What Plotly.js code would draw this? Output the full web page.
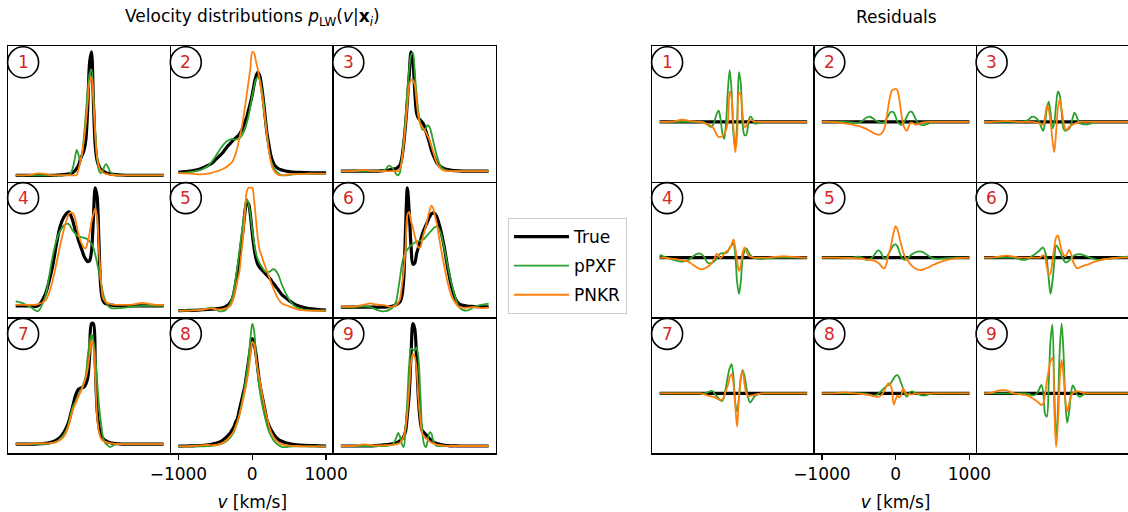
<!DOCTYPE html>
<html><head><meta charset="utf-8">
<script src="https://cdn.plot.ly/plotly-3.0.1.min.js"></script>
<style>html,body{margin:0;padding:0;background:#fff}#chart{width:1128px;height:512px}</style>
</head><body><div id="chart"></div>
<script>
// velocity grid (km/s)
const V = [-1000,-900,-800,-700,-600,-550,-500,-450,-400,-350,
  -300,-275,-250,-225,-200,-175,-150,-125,-100,-75,-50,-25,0,25,50,75,100,125,150,175,200,225,250,275,300,
  350,400,450,500,550,600,700,800,900,1000];

// ---- Velocity distributions (left) ----
const TRUE_1 = [0,0,0,0,0,0,0,0.3,0.5,0.8, 1.2,1.5,2,3,4.5,7,10,16,20,25,36,68,111,121,74,30,15,9,6,5,3.5,2.5,2,1.5,1.2, 0.8,0.5,0.3,0,0,0,0,0,0,0];
const PPXF_1 = [0,0,0,0,0,0,0,0,0,0.2, 0.5,1,3,8,17,25,20,14,22,40,62,85,100,104,80,45,18,5,2,4,9,11,8,4,2, 0.5,0,0,0,0,0,0,0,0,0];
const PNKR_1 = [0,0,0.5,2,1.5,0.5,0,0,0,0, 0,0,0,0,0,0.5,6,14,23,36,52,73,92,96,74,40,18,9,5,3,2,1.5,1,0.5,0.5, 0,0,0,0,0,0,0,0,0,0];

const TRUE_2 = [0.8,1.5,2.5,4.3,7.5,9.5,13,16.5,20,25, 29,31,33,34.5,36,38,41,45,50,55,62,69,77,87,95,99,96,86,72,55,39,28,18,12,8, 4.5,3,2,1.5,1,0.8,0.5,0.3,0.2,0.2];
const PPXF_2 = [0,0.5,1.5,3,7,11,16,22,27,31, 33,33.5,33,33,33.5,34,36,39,43,49,56,66,76,85,92,94,92,84,72,55,38,23,13,8,4, 0,-2,-2.3,-1.8,-1.3,-1,-0.7,-0.6,-0.8,-1];
const PNKR_2 = [0,-0.3,-0.8,-1.3,-0.5,0.3,1.3,2.5,4,6, 9,10.5,14,19,25,34,42,52,64,77,90,103,119,118,110,102,92,79,66,51,36,22,12,5,1.5, -1.5,-2.3,-1.8,-1.3,-1,-0.8,-0.7,-0.5,-0.5,-0.5];

const TRUE_3 = [0,0,0,0,0,0,0,0.3,0.6,1, 1.8,2.2,2.8,4,6,13,27,46,70,96,119,110,80,58,53,51,49,46,40,34,28,21,16,12,8, 4.5,2.5,1.5,0.8,0.5,0.3,0,0,0,0];
const PPXF_3 = [0,0,0,0,0,0,0,0.3,1.5,5.5, 3,0,-3,-4.3,-1,13,30,53,80,102,116,118,98,77,59,48,42,41,43,46,44,38,30,22,15, 5,1.5,0.5,0,0,0,0,0,0,0];
const PNKR_3 = [0,0,0.3,1.3,0.5,0,0,0,0,0, 0,0,0,0.5,2.5,10,26,45,66,86,91,91,86,70,54,47,44,42,39,35,31,25,19,13,8, 2.5,0.5,0,0,0,0,0,0,0,0];

const TRUE_4 = [0,0,0,0,11,23,38,58,75,84, 88.5,89,85,80,73,68,62,57,52,47,44,42,43,52,82,112,104,62,18,6,3,2,1.5,1,0.7, 0.4,0.2,0,0,0,0,0,0,0,0];
const PPXF_4 = [4.3,2.5,-1,-5,9,27,47,62,71,76, 78,77,74,71,69,67,66,65.5,65,64.5,64,63,61,59,55,49,41,32,23,14,7,3,0,-1.5,-2.3, -2.3,-2,-1.7,-1.3,-1,-0.6,0,0,0,0];
const PNKR_4 = [1,1,1,1.5,5,12,24,40,57,72, 84,88,88.5,88,84,76,68,62,58,55,55,61,69,80,87,92,85,55,28,9,5,3.5,2.5,2,1.5, 1,1,1,1,1,1.5,3,2,1,1];

const TRUE_5 = [0,0.2,0.4,0.7,1.2,1.5,1.8,2.3,3,4.5, 8,11,17,27,39,51,66,80,97,108,106,95,77,62,52,46,43,41,39,37,35,33,31,28,26, 21,16,13,10,7.5,5.5,3.2,1.8,1.1,0.7];
const PPXF_5 = [0,0.2,0.5,0.8,2.5,3,1.5,-0.5,-0.5,1.5, 7,12,20,31,44,58,73,87,102,111,106,96,80,67,57,51,47,44,41,39,38.5,38.5,39.5,41,41, 36,26,18,11,6,3.5,1,0.3,0,0];
const PNKR_5 = [0,0,0.3,0.8,2,2.3,1.7,1.3,1.5,2.5, 4.5,8,13,21,30,38,55,73,95,118,122,122,122,110,91,72,60,55,49,44,39,34,29,24,19.6, 12,7.3,5.7,4.4,3,1.5,0.3,0,0,0];

const TRUE_6 = [0,0,0,0,0,0,0,0,0,0.3, 1,1.5,2.3,3.5,5,10,26,73,114,91,58,41,42,51,57,63,69,74,78,82,86,89,90,89,86, 74,57,36,19,8,3,1,0.5,0.3,0.3];
const PPXF_6 = [0,0,0.3,0.7,0,-1.5,-3,-4,-4,-3, -0.5,2,6,16,28,40,48,52,55,57,59,60.5,61.5,62.5,63,63.5,64,65,67,69,71,73,75,76.5,77, 71,56,38,22,9,0,-3.5,0,2,3.3];
const PNKR_6 = [0.5,0.5,0.5,2,3.5,2.7,2.2,2,1.5,0.5, 0.3,1,2,4,7.7,20,34,56,88,91,82,76,68,62,57,57,64,71,77,85,92,97,94,87,79, 58,39,22,10,4,0,-0.7,0,-1,-0.7];

const TRUE_7 = [0,0,0,0.2,0.7,1.2,2.2,3.8,6.5,11, 18,23,30,37,44,49,52,53,53.5,54,57,63,84,114,114,79,33,17,9,6,4,3,2,1.5,1, 0.5,0.3,0,0,0,0,0,0,0,0];
const PPXF_7 = [0,0,0,0,0.3,0.6,1.2,2.5,5,9, 16,22,30,36,39,43,47,50,54,59,66,84,96,104,98,84,61,38,22,9,2.5,0,-1.5,-2.7,-2, 0,0,0,0,0,0,0,0,0,0];
const PNKR_7 = [0,0,0.5,1,0.8,0.8,1.2,2,4,7, 14,20,27,33,37,41,45,49,53,58,63,72,85,98,92,64,26,12,6,3.5,2.5,2,1.5,1,0.7, 0.3,0,0,0,0,0,0,0,0,0];

const TRUE_8 = [0.2,0.3,0.5,0.8,1.5,2,3,4,6,9, 13,16,19,24,28,36,44,52,60,72,85,97,107,102,92,77,63,53,44,35,26,21,17,14,11, 7,5,3.5,2.7,2,1.5,1,0.7,0.5,0.3];
const PPXF_8 = [0,0,0,0,0.3,0.5,1,1.8,3,5, 8.5,11,14,19,24,31,40,50,60,73,88,107,122,115,92,72,56,45,36,28,21,15,11,7.5,5, 1.5,-0.5,-0.7,-0.3,0,0,0,0,0,0];
const PNKR_8 = [0,0,0.3,1,1.3,1,1.3,2,3.5,6, 10,12,15,20,25,31,38,46,55,64,75,90,104,101,88,76,66,55,45,36,28,21,15,11,8, 4,2,1.3,0.8,0.5,0.3,0,0,0,0];

const TRUE_9 = [0,0,0,0,0,0.3,0.5,0.8,1.2,1.6, 2.1,2.5,3,4,5,6.5,9,14,30,50,88,118,113,84,45,24,15,13,11,9,7,5.5,4,3,2.3, 1.3,0.7,0.4,0.2,0.2,0,0,0,0,0];
const PPXF_9 = [0,0,0,0,0,0,0,0,0,0.5, 1.5,4,8,12.5,9,2,-1,17,45,79,94,93,92,95,85,52,16,2,-1,5,13,12,5,1.5,0, 0,0,0,0,0,0,0,0,0,0];
const PNKR_9 = [0,0,0.3,1.5,1,0.5,0.5,0.5,0.7,0.8, 1,1.3,1.7,2.3,3,5,9,17,32,55,80,89,86,74,45,26,12,9,7.5,6,4.5,3.3,2.5,1.8,1.3, 0.7,0.3,0,0,0,0,0,0,0,0];

// ---- Residuals (right) ----
const RES_TRUE = [0,0,0,0,0,0,0,0,0,0, 0,0,0,0,0,0,0,0,0,0,0,0,0,0,0,0,0,0,0,0,0,0,0,0,0, 0,0,0,0,0,0,0,0,0,0];
const RES_PPXF_1 = [0,0,0,0,0,0,0,0,-0.5,-3, -5,-3,2,8,11,3,-11,-17,-1,31,51,31,-12,-26,-1,49,38,-2,-13,-13,-3,5,4,0,-2, -1,0,0,0,0,0,0,0,0,0];
const RES_PNKR_1 = [0,0,0.5,2,1,0.5,0,0,-1,-2.5, -4,-6,-9,-13,-15,-15,-14,-12,-8,0,30,24,-5,-30,-14,29,26,8,-5,-4,0,2,1.5,0.5,0, 0,0,0,0,0,0,0,0,0,0];
const RES_PPXF_2 = [0,0,0,0,-0.5,-1,-1,1,4,5, 3,1.5,0.5,-0.5,-1,-1,0,3,6,9,10,9,5,0,-2,-3,-2,1,5,8.5,10,9.5,6,2,-1, -3,-3,-1.5,-0.5,0,0,0,0,0,0];
const RES_PNKR_2 = [0,0,-0.5,-1.5,-2.5,-3.5,-4,-5.5,-7,-9, -11,-12,-12.5,-12.7,-12,-10,-6,3,15,25,31,32,32.5,31,22,9,-2,-7,-9,-5,-1,-1,-2,-3,-2.5, -1,-0.3,0,0,0,0,0,0,0,0];
const RES_PPXF_3 = [0,0,0,0,0,0,0,0.5,2,5, 4,2,0,-5.6,-9,-1,13,20,9,-6.5,-1,17,30,26,9,-6.6,-9,-8,-7,-3,4,9,6,1,-1.5, -2.5,-2.5,-1.5,-0.5,0,0,0,0,0,0];
const RES_PNKR_3 = [0,0,0.5,1,0.5,0,0,0,0,0, -0.5,-1,-2,-2.5,-3,5,16,12,0,-18,-30,-10,14,22,12,0,-7,-7.5,-5,-4,-3,-2,-1,-0.5,0, 0,0,0,0,0,0,0,0,0,0];
const RES_PPXF_4 = [2.7,0,-2.5,-4,-2,1,3.5,4,1,-5, -5.5,-4.5,-3,-1,2,4,4.3,4.3,4.5,6,10,12,14,3,-24,-36,-24,-1,6,9,6,3,1,0,-0.5, -1.3,-1.3,-0.8,-0.5,-0.3,0,0,0,0,0];
const RES_PNKR_4 = [0,-0.5,-1.3,-2.5,-4.5,-7,-9.5,-11.5,-11,-9, -6,-3,0,4,2,-0.5,1,4,6,7,9,13,18,10,-3,-13,-8,5,10,6,2.5,1,0.5,0,0, 0,0,0,0.3,0.7,1,1.3,0.7,0.3,0];
const RES_PPXF_5 = [0,0,0,0,0,0.5,1,-0.5,-2.3,-1.5, 1.5,4,6.5,7,5,1,-1.3,0,3,6.5,10,12.5,13,11,6,1,-1.3,-2,-1.5,0,2,3.5,4.5,5.5,6, 6,4,1.5,-0.5,-1.3,-1.3,-0.5,0,0,0];
const RES_PNKR_5 = [0,0,0,-0.3,-0.5,-0.7,-1,-1.3,-1.7,-2.3, -3,-3.5,-4.5,-6,-8,-10,-10.5,-6,2,8,17,25,31,28,20,13,6,1,-2,-4,-6.5,-8.5,-10,-11,-12, -12.3,-11,-9.5,-7.5,-6,-4.5,-2.3,-1,-0.3,0];
const RES_PPXF_6 = [0,0,0,0,0,-1,-2,-2.3,-1,1.5, 4,5.5,7,9,10,6,-2,-21,-36,-24,-5,12,10,6,2,-2,-4.5,-4.5,-3,-1,1,2.3,3,3.3,3.3, 2.3,1,-0.5,-1.5,-2.3,-2,-1,0,0.7,1];
const RES_PNKR_6 = [0,0,1,2,1,0.3,0,0,0,0, 0,0,0,1,2.5,0,-9.5,-17,-15,-3,10,20,22,15,7,3,1,4,7.5,4,-3,-7,-10,-10.5,-9.5, -8,-7,-5.5,-4,-3,-2,-1,-0.3,0,0];
const RES_PPXF_7 = [0,0,0,0,0,0,0,0,0,1, 2.5,2,-1,-3,-5,-7,-7.5,-3,6.6,17,25,29,17,-9,-18,-4.5,15,23,17.5,6.5,-4.3,-9,-7,-4,-2, -0.5,0,0,0,0,0,0,0,0,0];
const RES_PNKR_7 = [0,0,0,0,0,0,0,0,-1,-2, -3,-3.3,-4,-5,-6,-6.5,-6,-3,3,8,16,19,10,-12,-33,-5,15,22,10,0,-2.5,-2.5,-2,-1.7,-1, -0.5,0,0,0,0,0,0,0,0,0];
const RES_PPXF_8 = [0,0,0,0,0,0,0,0,-0.3,-1.3, -2.3,-2,-1,0.5,2,4,5.5,7,8,9.5,12,15,17.5,18,15,10,5,-1,-3.3,-1,1.5,2,1,0,-0.5, -2,-2,-1,-0.3,0,0,0,0,0,0];
const RES_PNKR_8 = [0,0,0.3,1,0.3,0,-0.3,-0.7,-1.3,-1.7, -2.5,-3,-3.3,-3.3,-2,0,3,7,10,9,3,-11,-6,-2,-4,-2,5,2,-0.5,-1,-1,-1,-0.5,0,0, 0,0,0,0,0,0,0,0,0,0];
const RES_PPXF_9 = [0,0,0,0,0,0,0,0,-0.5,-2, -1,1,5,8.5,1.5,-20,-23,11,53,68,4,-46,-15,44,69,41,-8,-29,-19,-1.5,8,5,0,-2.5,-3.3, -1,0,0,0,0,0,0,0,0,0];
const RES_PNKR_9 = [0,0.5,3,3,0,-0.5,-1,-1.5,-2.5,-4.5, -7,-8.5,-10,-11.5,-10,-1.5,12,23,32,35,-14.5,-53,-29.5,14,33,18.5,-7,-18,-11,-3,0,1.5,2,2,1.5, 0.5,0,0,0,0,0,0,0,0,0];

const PANEL_LABELS = ['1','2','3','4','5','6','7','8','9'];
const SERIES_NAMES = ['True','pPXF','PNKR'];
const TICK_VALS = [-1000, 0, 1000];
const TICK_TEXT = ['\u22121000', '0', '1000'];

const LEFT = [[TRUE_1,PPXF_1,PNKR_1],[TRUE_2,PPXF_2,PNKR_2],[TRUE_3,PPXF_3,PNKR_3],
              [TRUE_4,PPXF_4,PNKR_4],[TRUE_5,PPXF_5,PNKR_5],[TRUE_6,PPXF_6,PNKR_6],
              [TRUE_7,PPXF_7,PNKR_7],[TRUE_8,PPXF_8,PNKR_8],[TRUE_9,PPXF_9,PNKR_9]];
const RIGHT = [[RES_TRUE,RES_PPXF_1,RES_PNKR_1],[RES_TRUE,RES_PPXF_2,RES_PNKR_2],[RES_TRUE,RES_PPXF_3,RES_PNKR_3],
               [RES_TRUE,RES_PPXF_4,RES_PNKR_4],[RES_TRUE,RES_PPXF_5,RES_PNKR_5],[RES_TRUE,RES_PPXF_6,RES_PNKR_6],
               [RES_TRUE,RES_PPXF_7,RES_PNKR_7],[RES_TRUE,RES_PPXF_8,RES_PNKR_8],[RES_TRUE,RES_PPXF_9,RES_PNKR_9]];

// ---- styling / geometry ----
const W = 1128, H = 512;
const FONT = 'DejaVu Sans';
const COLORS = ['#000000', '#2ca02c', '#ff7f0e'];
const WIDTHS = [3.2, 1.8, 1.8];
const LEFT_COLS = [8.3, 171, 333.5, 496];
const RIGHT_COLS = [652.3, 814.5, 976.8, 1139.1];
const ROWS = [45.8, 181.6, 317.4, 453.2];

function padRange(arrs) {
  let mn = Infinity, mx = -Infinity;
  arrs.forEach(a => a.forEach(v => { if (v < mn) mn = v; if (v > mx) mx = v; }));
  const p = 0.05 * (mx - mn);
  return [mn - p, mx + p];
}
const RES_RANGE = padRange(RIGHT.flat());

const traces = [];
const shapes = [];
const annotations = [];
const layout = {
  width: W, height: H,
  margin: {l: 0, r: 0, t: 0, b: 0},
  paper_bgcolor: '#ffffff', plot_bgcolor: '#ffffff',
  font: {family: FONT, size: 17, color: '#000000'},
  showlegend: true,
  legend: {
    x: 508 / W, y: 1 - 218 / H, xanchor: 'left', yanchor: 'top',
    bgcolor: '#ffffff', bordercolor: '#cccccc', borderwidth: 1,
    font: {family: FONT, size: 17, color: '#000000'},
    tracegroupgap: 4, traceorder: 'grouped', itemwidth: 55
  }
};

for (let side = 0; side < 2; side++) {
  for (let k = 0; k < 9; k++) {
    const idx = side * 9 + k + 1;
    const sfx = idx === 1 ? '' : String(idx);
    const xa = 'x' + sfx, ya = 'y' + sfx;
    const col = k % 3, row = Math.floor(k / 3);
    const cols = side === 0 ? LEFT_COLS : RIGHT_COLS;
    let x0 = cols[col], x1 = cols[col + 1];
    let xr = [-1100, 1100];
    let clipped = false;
    if (x1 > W) { xr = [-1100, -1100 + 2200 * (W - x0) / (x1 - x0)]; x1 = W; clipped = true; }
    const data = side === 0 ? LEFT[k] : RIGHT[k];
    const yr = side === 0 ? padRange(data) : RES_RANGE;
    const bottomMid = (k === 7);

    const xaxis = {
      domain: [x0 / W, x1 / W], anchor: ya, range: xr,
      showgrid: false, zeroline: false, showline: true, mirror: row === 0,
      linecolor: '#000000', linewidth: 1.3,
      ticks: bottomMid ? 'outside' : '', ticklen: 5, tickwidth: 1.3, tickcolor: '#000000',
      showticklabels: bottomMid,
      tickvals: TICK_VALS, ticktext: TICK_TEXT,
      tickfont: {family: FONT, size: 17, color: '#000000'},
      fixedrange: true
    };
    if (bottomMid) xaxis.title = {text: '<i>v</i> [km/s]', font: {family: FONT, size: 17}, standoff: 19};
    layout['xaxis' + sfx] = xaxis;
    layout['yaxis' + sfx] = {
      domain: [1 - ROWS[row + 1] / H, 1 - ROWS[row] / H], anchor: xa, range: yr,
      showgrid: false, zeroline: false, showline: true, mirror: (col === 2 && !clipped),
      linecolor: '#000000', linewidth: 1.3,
      ticks: '', showticklabels: false, fixedrange: true
    };

    for (let s = 0; s < 3; s++) {
      traces.push({
        type: 'scatter', mode: 'lines', x: V, y: data[s],
        xaxis: xa, yaxis: ya,
        name: SERIES_NAMES[s], legendgroup: SERIES_NAMES[s],
        showlegend: idx === 1,
        line: {color: COLORS[s], width: WIDTHS[s], shape: 'spline', smoothing: 0.9},
        hoverinfo: 'skip'
      });
    }

    // numbered circle badge
    shapes.push({
      type: 'circle', xref: xa + ' domain', yref: ya + ' domain',
      xsizemode: 'pixel', ysizemode: 'pixel', xanchor: 0, yanchor: 1,
      x0: 14.8 - 15.5, x1: 14.8 + 15.5, y0: -16.5 + 15.5, y1: -16.5 - 15.5,
      line: {color: '#000000', width: 1.6}, fillcolor: '#ffffff', layer: 'above'
    });
    annotations.push({
      xref: xa + ' domain', yref: ya + ' domain', x: 0, y: 1,
      xshift: 14.8, yshift: -16.5, xanchor: 'center', yanchor: 'middle',
      text: PANEL_LABELS[k], showarrow: false,
      font: {family: FONT, size: 17, color: '#d62728'}
    });
  }
}

annotations.push({
  xref: 'paper', yref: 'paper', x: 252 / W, y: 1 - 17 / H, xanchor: 'center', yanchor: 'middle',
  text: 'Velocity distributions <i>p</i><sub>LW</sub>(<i>v</i>|<b>x</b><sub><i>i</i></sub>)',
  showarrow: false, font: {family: FONT, size: 17, color: '#000000'}
});
annotations.push({
  xref: 'paper', yref: 'paper', x: 896 / W, y: 1 - 17 / H, xanchor: 'center', yanchor: 'middle',
  text: 'Residuals', showarrow: false, font: {family: FONT, size: 17, color: '#000000'}
});

layout.shapes = shapes;
layout.annotations = annotations;

Plotly.newPlot('chart', traces, layout, {displayModeBar: false, staticPlot: true});
</script>
</body></html>
